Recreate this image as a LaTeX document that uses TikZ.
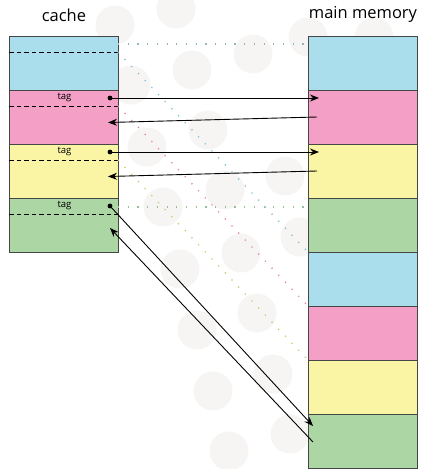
\documentclass[tikz,border=0pt]{standalone}
\usepackage{fontspec}
\setmainfont{Open Sans}
\usetikzlibrary{arrows.meta}
\definecolor{blockblue}{RGB}{170, 222, 236}
\definecolor{blockpink}{RGB}{244, 159, 197}
\definecolor{blockyellow}{RGB}{249, 245, 165}
\definecolor{blockgreen}{RGB}{172, 215, 164}
\definecolor{framegray}{RGB}{70, 70, 70}
\definecolor{bubble}{RGB}{246, 245, 244}
\definecolor{guidegray}{RGB}{150, 178, 188}
\definecolor{guideblue}{RGB}{125, 190, 215}
\definecolor{guidepink}{RGB}{228, 130, 165}
\definecolor{guideyellow}{RGB}{195, 205, 115}
\definecolor{guidegreen}{RGB}{150, 192, 150}

\tikzset{
  block/.style={draw=framegray, line width=0.9pt, minimum width=109pt,
    minimum height=54pt, inner sep=0pt, outer sep=0pt, anchor=north west},
  tagline/.style={line width=0.9pt, dash pattern=on 4.5pt off 3pt},
  guide/.style={line width=1.3pt, dash pattern=on 1.2pt off 8.5pt},
  title/.style={font=\fontsize{16.5}{18}\selectfont, anchor=base},
}

\begin{document}
\begin{tikzpicture}[x=1pt, y=-1pt, >={Stealth[length=9pt, width=7pt]}]
  \useasboundingbox (0,0) rectangle (421,469);

  % pale circles behind everything
  \foreach \cx/\cy in {115/25, 131/85, 147/147, 163/207, 180/269, 197/330,
      213/391, 229/451, 176/9, 192/70, 208/130, 225/190, 241/253, 257/313,
      273/374, 290/434, 253/54, 285/176, 300/237, 308/37, 374/37}
    \fill[bubble] (\cx,\cy) circle (19.5pt);

  \node[title] (cachetitle) at (64,21) {cache};
  \node[title] (memtitle) at (363,18) {main memory};

  % cache lines
  \node[block, fill=blockblue] (c1) at (9,36) {};
  \node[block, fill=blockpink] (c2) at (9,90) {};
  \node[block, fill=blockyellow] (c3) at (9,144) {};
  \node[block, fill=blockgreen] (c4) at (9,198) {};

  % memory blocks
  \foreach \i/\col in {1/blockblue, 2/blockpink, 3/blockyellow, 4/blockgreen,
      5/blockblue, 6/blockpink, 7/blockyellow, 8/blockgreen}
    \node[block, fill=\col] (m\i) at (308,{36+54*(\i-1)}) {};

  \foreach \i in {1,...,4}
    \draw[tagline] ([yshift=-16pt]c\i.north west) -- ([yshift=-16pt]c\i.north east);
  \foreach \i in {2,3,4} {
    \node[font=\fontsize{9.5}{10}\selectfont] (tag\i) at ([xshift=1pt, yshift=-7.5pt]c\i.north) {tag};
    \coordinate (d\i) at ([xshift=-8pt, yshift=-8pt]c\i.north east);
  }

  % mapping guides
  \draw[guide, guidegray] ([yshift=-8pt]c1.north east) -- ([yshift=-8pt]m1.north west);
  \draw[guide, guideblue] ([yshift=-16pt]c1.north east) -- (m5.north west);
  \draw[guide, guidepink] ([yshift=-16pt]c2.north east) -- (m6.north west);
  \draw[guide, guideyellow] ([yshift=-16pt]c3.north east) -- (m7.north west);
  \draw[guide, guidegreen] ([yshift=-9pt]c4.north east) -- ([yshift=-9pt]m4.north west);

  % requests and replies
  \coordinate (in2) at ([xshift=11pt, yshift=-8pt]m2.north west);
  \coordinate (out2) at ([xshift=9pt, yshift=-27pt]m2.north west);
  \coordinate (back2) at ([xshift=-10pt, yshift=-32.5pt]c2.north east);
  \coordinate (in3) at ([xshift=11pt, yshift=-8pt]m3.north west);
  \coordinate (out3) at ([xshift=9pt, yshift=-27pt]m3.north west);
  \coordinate (back3) at ([xshift=-10pt, yshift=-32.5pt]c3.north east);
  \coordinate (in8) at ([xshift=5pt, yshift=-12pt]m8.north west);
  \coordinate (out8) at ([xshift=5pt, yshift=-28pt]m8.north west);
  \coordinate (back4) at ([xshift=-8pt, yshift=-30pt]c4.north east);

  \draw[->, line width=0.9pt] (d2) -- (in2);
  \draw[->, line width=0.9pt] (out2) -- (back2);
  \draw[->, line width=0.9pt] (d3) -- (in3);
  \draw[->, line width=0.9pt] (out3) -- (back3);
  \draw[->, line width=0.9pt] (d4) -- (in8);
  \draw[->, line width=0.9pt] (out8) -- (back4);
  \foreach \i in {2,3,4}
    \fill (d\i) circle (2.4pt);
\end{tikzpicture}
\end{document}
